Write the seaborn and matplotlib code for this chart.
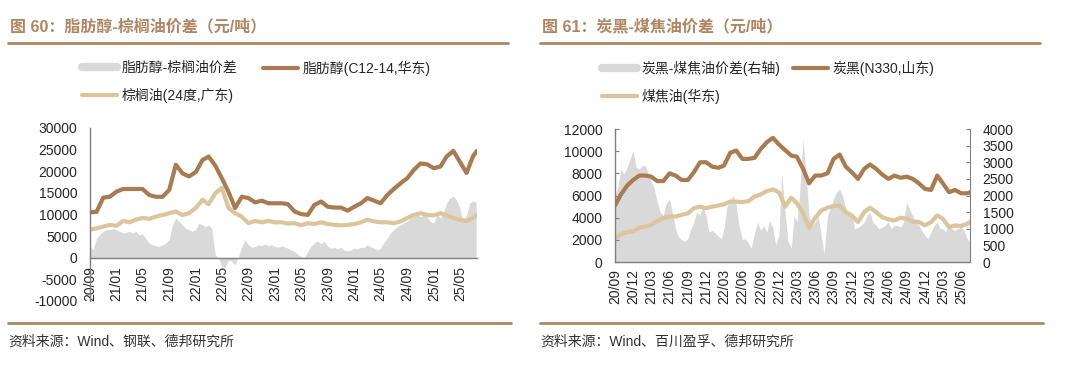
import pandas as pd
import matplotlib
matplotlib.use('Agg')
import matplotlib.pyplot as plt
import matplotlib.dates as mdates
from matplotlib.lines import Line2D
import seaborn as sns

sns.set_style('white')
plt.rcParams['font.family'] = ['Liberation Sans', 'Noto Sans CJK SC']
plt.rcParams['axes.unicode_minus'] = False

BROWN = '#a97b50'
TAN = '#dbc59c'
GRAY = '#d9d9d9'
TITLE_C = '#b08662'
AXIS_C = '#7f7f7f'
TEXT_C = '#262626'

# 图60 脂肪醇 / 棕榈油 (月度), 价差 (半月)
c1214 = [10500, 10600, 13900, 14100, 15300, 15900, 15900, 15900, 15900, 14500,
         14100, 14100, 15700, 21500, 19500, 18800, 19800, 22600, 23400, 21300,
         18400, 15200, 11500, 14100, 13800, 12800, 13200, 12600, 12600, 12600,
         12400, 10700, 10100, 9900, 12200, 13000, 11800, 11600, 11600, 10900,
         11800, 12600, 13800, 13200, 12600, 14500, 15900, 17200, 18400, 20300,
         21800, 21600, 20700, 21100, 23400, 24700, 22200, 19600, 23500, 24700]
palm = [6500, 6800, 7200, 7600, 7400, 8500, 8200, 8800, 9200, 9000,
        9500, 9900, 10300, 10700, 9900, 10300, 11500, 13400, 12400, 14900,
        16200, 11500, 10300, 9500, 8000, 8500, 8200, 8500, 8200, 8200,
        7900, 8000, 7500, 8000, 7800, 8200, 7800, 7600, 7500, 7600,
        7800, 8200, 8800, 8400, 8200, 8200, 8000, 8400, 9200, 9900,
        10300, 9900, 9800, 10300, 9800, 9200, 8800, 8500, 9200, 9900]
spread_l = [2800, 1800, 4500, 5300, 6100, 6500, 6500, 6800, 6500, 6100,
            5700, 5900, 6100, 5700, 6100, 5300, 5500, 4500, 3400, 3000,
            2800, 2600, 3000, 3400, 4200, 7600, 9200, 8400, 7600, 6800,
            6500, 6100, 6500, 8000, 7600, 7200, 7600, 6800, 700, -100,
            -2000, -2400, -500, -800, -1600, 0, 2600, 4200, 3000, 2400,
            2600, 3000, 2800, 3200, 2800, 3000, 2600, 2400, 2800, 2500,
            2200, 1800, 1500, 800, 300, 0, 1500, 2600, 3400, 3900,
            3200, 3800, 2600, 2200, 2400, 2100, 2400, 1800, 1600, 1800,
            2200, 2100, 2400, 2400, 3000, 2600, 2200, 1800, 2200, 3400,
            4500, 5700, 6500, 7200, 7600, 8000, 8400, 9200, 9500, 9900,
            9500, 9900, 9500, 8400, 8000, 9900, 9200, 10700, 12600, 13800,
            14200, 13400, 11500, 8400, 9900, 12600, 13200, 12800]

# 图61 炭黑 / 煤焦油 (月度), 价差 (半月, 右轴)
n330 = [5100, 6100, 6900, 7400, 7800, 7800, 7700, 7300, 7300, 8000,
        7800, 7400, 7400, 8100, 9000, 9000, 8600, 8500, 8700, 9850,
        10060, 9300, 9300, 9400, 10200, 10800, 11200, 10600, 10100, 9600,
        9500, 8400, 7100, 7800, 7800, 8000, 9300, 9700, 8600, 8100,
        7500, 8400, 8800, 8400, 7900, 7500, 7800, 7600, 7700, 7500,
        7100, 6600, 6500, 7800, 7100, 6300, 6500, 6200, 6200, 6300]
coaltar = [2100, 2500, 2700, 2750, 3100, 3200, 3350, 3700, 3950, 4100,
           4100, 4250, 4400, 4850, 5000, 4850, 5000, 5100, 5200, 5450,
           5450, 5400, 5500, 5900, 6100, 6400, 6550, 6300, 5000, 5800,
           5300, 4400, 3100, 4000, 4650, 4900, 5050, 5100, 4500, 4200,
           3600, 4500, 4900, 4500, 4050, 3850, 3750, 4000, 3900, 3650,
           3600, 3300, 3600, 4200, 3900, 3150, 3300, 3250, 3450, 3650]
spread_r = [2000, 2250, 2800, 2650, 2850, 3100, 3350, 2850, 2800, 2900,
            2900, 2650, 2400, 2250, 1800, 1500, 1400, 1750, 1900, 1500,
            1000, 770, 670, 620, 700, 1000, 1200, 1500, 1400, 1700,
            1400, 900, 950, 870, 770, 700, 1000, 1650, 1850, 2000,
            1700, 1100, 670, 700, 570, 420, 870, 1200, 950, 1100,
            900, 1250, 1000, 520, 800, 2700, 1500, 620, 420, 1400,
            1200, 2100, 3700, 2700, 1400, 1100, 1200, 1400, 800, 250,
            1400, 1600, 1900, 2100, 2200, 2000, 1600, 1400, 1500, 1000,
            1050, 1100, 1200, 1400, 1500, 1200, 1100, 1000, 1050, 1100,
            1200, 1000, 1100, 1100, 1050, 1200, 1800, 1600, 1400, 1200,
            1100, 950, 800, 700, 900, 1100, 1200, 1000, 1000, 900,
            1200, 1000, 950, 1000, 1050, 950, 700, 600]

line_dates = pd.date_range('2020-09-01', '2025-07-01', freq='MS').append(
    pd.DatetimeIndex(['2025-07-18']))
half_dates = pd.date_range('2020-09-01', periods=len(spread_l), freq='SMS')

W, H = 1080, 366
fig = plt.figure(figsize=(W / 100, H / 100), dpi=100)


def box(x0, y_top, x1, y_bot):
    return [x0 / W, 1 - y_bot / H, (x1 - x0) / W, (y_bot - y_top) / H]


def style_axis(ax, xpad):
    for s in ['top', 'right']:
        ax.spines[s].set_visible(False)
    for s in ['left', 'bottom']:
        ax.spines[s].set_color(AXIS_C)
        ax.spines[s].set_linewidth(1)
    ax.tick_params(axis='both', direction='in', length=3, width=0.8, color=AXIS_C,
                   labelsize=10, labelcolor=TEXT_C)
    ax.tick_params(axis='x', rotation=90, pad=xpad)
    ax.tick_params(axis='y', pad=9)
    ax.set_xlabel('')
    ax.set_ylabel('')
    ax.grid(False)


# ---- 左图 ----
ax1 = fig.add_axes(box(90, 128, 477, 301))
ax1.fill_between(half_dates, 0, spread_l, color=GRAY, lw=0)
sns.lineplot(x=line_dates, y=palm, ax=ax1, color=TAN, lw=3)
sns.lineplot(x=line_dates, y=c1214, ax=ax1, color=BROWN, lw=3)
ax1.set_ylim(-10000, 30000)
ax1.set_yticks(range(-10000, 30001, 5000))
ax1.set_xlim(pd.Timestamp('2020-09-01'), pd.Timestamp('2025-07-19'))
ax1.xaxis.set_major_locator(mdates.MonthLocator(bymonth=[1, 5, 9]))
ax1.xaxis.set_major_formatter(mdates.DateFormatter('%y/%m'))
style_axis(ax1, xpad=6)
ax1.spines['bottom'].set_position(('data', 0))

# ---- 右图 ----
ax2 = fig.add_axes(box(615, 129, 970, 262))
ax2r = ax2.twinx()
ax2r.fill_between(half_dates, 0, spread_r, color=GRAY, lw=0)
sns.lineplot(x=line_dates, y=coaltar, ax=ax2, color=TAN, lw=3)
sns.lineplot(x=line_dates, y=n330, ax=ax2, color=BROWN, lw=3)
ax2.set_zorder(ax2r.get_zorder() + 1)
ax2.patch.set_visible(False)
ax2.set_ylim(0, 12000)
ax2.set_yticks(range(0, 12001, 2000))
ax2r.set_ylim(0, 4000)
ax2r.set_yticks(range(0, 4001, 500))
ax2.set_xlim(pd.Timestamp('2020-09-01'), pd.Timestamp('2025-07-15'))
ax2.xaxis.set_major_locator(mdates.MonthLocator(bymonth=[3, 6, 9, 12]))
ax2.xaxis.set_major_formatter(mdates.DateFormatter('%y/%m'))
style_axis(ax2, xpad=5)
for s in ['top', 'left', 'bottom']:
    ax2r.spines[s].set_visible(False)
ax2r.spines['right'].set_color(AXIS_C)
ax2r.tick_params(axis='y', direction='in', length=3, width=0.8, color=AXIS_C,
                 labelsize=10, labelcolor=TEXT_C, pad=9)
ax2r.set_ylabel('')
ax2r.grid(False)

# ---- 标题、分隔线、图例、来源 ----
titles = ['图 60：脂肪醇-棕榈油价差（元/吨）', '图 61：炭黑-煤焦油价差（元/吨）']
sources = ['资料来源：Wind、钢联、德邦研究所', '资料来源：Wind、百川盈孚、德邦研究所']
lefts = [8, 540]
for x0, t, src in zip(lefts, titles, sources):
    fig.text((x0 + 2) / W, 1 - 27 / H, t, fontsize=11.5, fontweight='bold',
             color=TITLE_C, ha='left', va='center')
    fig.add_artist(Line2D([x0 / W, (x0 + 500) / W], [1 - 43 / H] * 2,
                          color=TITLE_C, lw=2, transform=fig.transFigure))
    fig.add_artist(Line2D([x0 / W, (x0 + 503) / W], [1 - 323 / H] * 2,
                          color=TITLE_C, lw=2, transform=fig.transFigure))
    fig.text(x0 / W, 1 - 342 / H, src, fontsize=10, color='#333333',
             ha='left', va='center')

leg_kw = dict(loc='upper left', frameon=False, fontsize=10, handlelength=2.5,
              handletextpad=0.35, labelspacing=0.9, borderpad=0,
              borderaxespad=0)
gray_h = Line2D([], [], color=GRAY, lw=6)
tan_h = Line2D([], [], color=TAN, lw=3)
brown_h = Line2D([], [], color=BROWN, lw=3)

fig.legend([gray_h, tan_h], ['脂肪醇-棕榈油价差', '棕榈油(24度,广东)'],
           bbox_to_anchor=(82 / W, 1 - 61 / H), **leg_kw)
fig.legend([brown_h], ['脂肪醇(C12-14,华东)'],
           bbox_to_anchor=(263 / W, 1 - 61 / H), **leg_kw)
fig.legend([gray_h, tan_h], ['炭黑-煤焦油价差(右轴)', '煤焦油(华东)'],
           bbox_to_anchor=(602 / W, 1 - 61 / H), **leg_kw)
fig.legend([brown_h], ['炭黑(N330,山东)'],
           bbox_to_anchor=(793 / W, 1 - 61 / H), **leg_kw)

fig.savefig('out.png', dpi=100)
